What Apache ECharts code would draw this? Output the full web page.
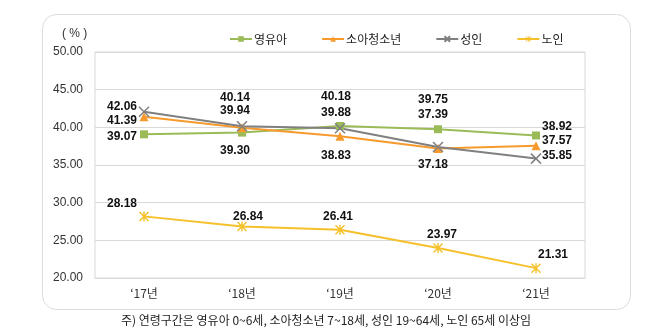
<!DOCTYPE html>
<html><head><meta charset="utf-8">
<script src="https://cdn.jsdelivr.net/npm/echarts@6/dist/echarts.min.js"></script>
<style>html,body{margin:0;padding:0;background:#fff;}#c{width:652px;height:333px;}</style>
</head><body><div id="c"></div>
<script>
const categories = ['‘17년', '‘18년', '‘19년', '‘20년', '‘21년'];
const seriesNames = ['영유아', '소아청소년', '성인', '노인'];
const infant = [39.07, 39.30, 40.18, 39.75, 38.92];
const youth = [41.39, 39.94, 38.83, 37.18, 37.57];
const adult = [42.06, 40.14, 39.88, 37.39, 35.85];
const elderly = [28.18, 26.84, 26.41, 23.97, 21.31];
const yTicks = {min: 20, max: 50, interval: 5};
const note = '주) 연령구간은 영유아 0~6세, 소아청소년 7~18세, 성인 19~64세, 노인 65세 이상임';

// label offsets (style only): label center relative to the point
const infantOff = [[-22,2],[-7,18],[-4,-29],[-5,-30],[21,-9]];
const youthOff = [[-22,4],[-7,-17],[-4,20],[-5,16],[21,-5]];
const adultOff = [[-22,-5],[-7,-29],[-4,-16],[-5,-32],[21,-3]];
const elderlyOff = [[-22,-13],[6,-10],[-2,-13],[4,-13],[17,-13]];

const FONT = "'Liberation Sans','Noto Sans CJK KR',sans-serif";
const KFONT = "'Noto Sans CJK KR','Liberation Sans',sans-serif";

const STAR = 'path://M4.3,0L5.7,0L5.7,10L4.3,10ZM0,1L1,0L10,9L9,10ZM9,0L10,1L1,10L0,9Z';

function mk(name, vals, offs, color, symbol, symbolSize, strokeSym) {
  return {
    name, type: 'line', data: vals.map((v, i) => ({
      value: v,
      label: {offset: offs[i]}
    })),
    symbol, symbolSize,
    showAllSymbol: true,
    lineStyle: {color, width: 2},
    itemStyle: strokeSym ? {color: color, borderColor: color, borderWidth: 1.5} : {color, borderColor: color, borderWidth: 0},
    label: {show: true, position: 'inside', formatter: p => p.value.toFixed(2),
      color: '#111', fontWeight: 'bold', fontSize: 12, fontFamily: FONT},
    emphasis: {disabled: true},
    z: 3
  };
}

const chart = echarts.init(document.getElementById('c'), null, {renderer: 'canvas'});
chart.setOption({
  animation: false,
  backgroundColor: '#fff',
  graphic: [
    {type: 'rect', shape: {x: 42.5, y: 14.5, width: 588, height: 295, r: 14}, style: {fill: 'none', stroke: '#dcdcdc', lineWidth: 1}, z: -1},
    {type: 'text', left: 'center', top: 314, style: {text: note, fill: '#222', font: "12px 'Noto Sans CJK KR', sans-serif"}},
    {type: 'text', left: 62, top: 28, style: {text: '( % )', fill: '#333', font: "12px 'Liberation Sans', sans-serif"}}
  ],
  legend: {
    top: 28, left: 224, itemGap: 34, itemWidth: 22, itemHeight: 7,
    textStyle: {fontSize: 12, color: '#222', fontFamily: KFONT, padding: [0,0,0,-3]},
    data: seriesNames
  },
  grid: {left: 95, right: 67, top: 52, bottom: 55, show: true, borderColor: '#d9d9d9', borderWidth: 1},
  xAxis: {
    type: 'category', data: categories, boundaryGap: true,
    axisLine: {show: true, lineStyle: {color: '#d9d9d9'}},
    axisTick: {show: false},
    axisLabel: {color: '#333', fontSize: 12, margin: 9, fontFamily: KFONT}
  },
  yAxis: {
    type: 'value', min: yTicks.min, max: yTicks.max, interval: yTicks.interval,
    axisLine: {show: false}, axisTick: {show: false},
    splitLine: {lineStyle: {color: '#d9d9d9'}},
    axisLabel: {color: '#333', fontSize: 12, margin: 12, fontFamily: FONT, formatter: v => v.toFixed(2)}
  },
  series: [
    mk(seriesNames[0], infant, infantOff, '#9bbb59', 'rect', 8, false),
    mk(seriesNames[1], youth, youthOff, '#f79a2e', 'triangle', 9, false),
    mk(seriesNames[2], adult, adultOff, '#808080', 'path://M0,0L10,10M10,0L0,10', 10, true),
    mk(seriesNames[3], elderly, elderlyOff, '#f5c02a', STAR, 10, false)
  ]
});
</script></body></html>
